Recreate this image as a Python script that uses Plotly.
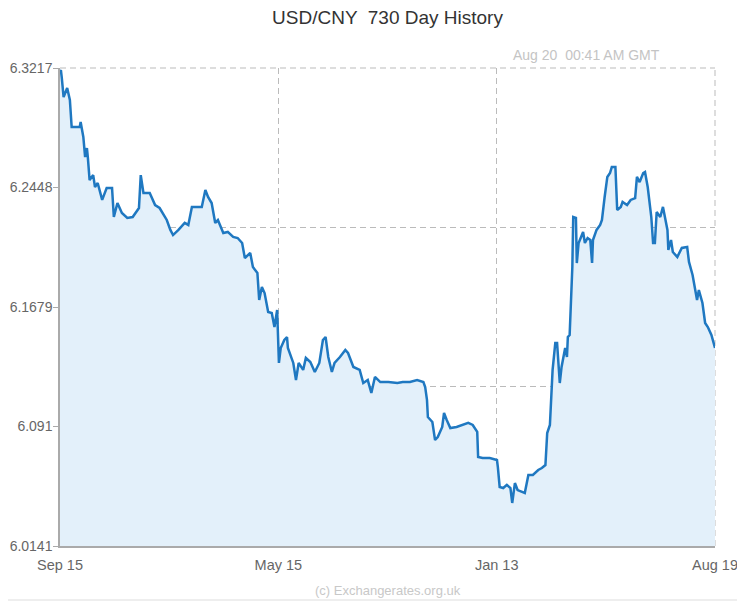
import plotly.graph_objects as go

# day offsets within the 730 day window, and the USD/CNY rate on that day
days = [
    0, 1, 2, 4, 8, 11, 13, 22, 23, 26, 28, 30, 31, 33, 37, 39, 42, 47, 52, 58,
    60, 64, 69, 75, 81, 86, 88, 90, 93, 100, 106, 111, 119, 123, 126, 132, 139, 143, 147, 158,
    162, 165, 169, 173, 176, 182, 187, 193, 198, 203, 206, 212, 215, 220, 222, 225, 228, 232, 236, 239,
    242, 244, 246, 250, 253, 254, 260, 263, 266, 271, 274, 279, 284, 289, 293, 296, 299, 303, 306, 312,
    318, 321, 327, 334, 338, 343, 347, 351, 357, 366, 376, 382, 390, 398, 405, 407, 409, 410, 415, 418,
    421, 426, 428, 431, 435, 442, 449, 455, 460, 465, 466, 471, 479, 487, 488, 490, 494, 498, 502, 504,
    507, 510, 515, 518, 522, 527, 533, 537, 541, 543, 546, 548, 549, 552, 554, 557, 559, 563, 565, 566,
    568, 571, 572, 575, 576, 578, 582, 583, 585, 588, 591, 593, 594, 598, 602, 604, 607, 610, 613, 615,
    619, 621, 625, 627, 632, 636, 641, 643, 646, 650, 652, 655, 659, 661, 663, 665, 669, 672, 677, 678,
    681, 683, 688, 693, 699, 701, 705, 710, 712, 716, 719, 722, 726, 728, 730,
]
rates = [
    6.3191, 6.3204, 6.3153, 6.3030, 6.3088, 6.3011, 6.2837, 6.2837, 6.2870, 6.2773,
    6.2644, 6.2702, 6.2644, 6.2496, 6.2528, 6.2451, 6.2477, 6.2368, 6.2445, 6.2445,
    6.2258, 6.2348, 6.2284, 6.2252, 6.2258, 6.2303, 6.2316, 6.2528, 6.2413, 6.2413,
    6.2335, 6.2316, 6.2239, 6.2175, 6.2142, 6.2175, 6.2220, 6.2207, 6.2323, 6.2323,
    6.2432, 6.2387, 6.2348, 6.2220, 6.2239, 6.2155, 6.2162, 6.2130, 6.2123, 6.2091,
    6.1994, 6.2027, 6.1936, 6.1898, 6.1724, 6.1808, 6.1769, 6.1647, 6.1640, 6.1550,
    6.1660, 6.1319, 6.1415, 6.1467, 6.1486, 6.1415, 6.1319, 6.1209, 6.1319, 6.1274,
    6.1351, 6.1325, 6.1261, 6.1319, 6.1467, 6.1486, 6.1357, 6.1261, 6.1319, 6.1357,
    6.1402, 6.1383, 6.1293, 6.1274, 6.1190, 6.1209, 6.1126, 6.1229, 6.1196, 6.1196,
    6.1190, 6.1196, 6.1196, 6.1209, 6.1196, 6.1164, 6.1081, 6.0971, 6.0939, 6.0823,
    6.0842, 6.0907, 6.0997, 6.0952, 6.0900, 6.0907, 6.0920, 6.0933, 6.0920, 6.0875,
    6.0714, 6.0707, 6.0707, 6.0694, 6.0649, 6.0521, 6.0514, 6.0534, 6.0514, 6.0418,
    6.0546, 6.0501, 6.0489, 6.0482, 6.0598, 6.0598, 6.0630, 6.0643, 6.0662, 6.0868,
    6.0920, 6.1229, 6.1274, 6.1447, 6.1447, 6.1190, 6.1293, 6.1415, 6.1357, 6.1486,
    6.1499, 6.1936, 6.2258, 6.2252, 6.1962, 6.2091, 6.2155, 6.2162, 6.2091, 6.2123,
    6.2110, 6.1962, 6.2110, 6.2175, 6.2207, 6.2239, 6.2387, 6.2516, 6.2541, 6.2580,
    6.2580, 6.2303, 6.2323, 6.2355, 6.2335, 6.2368, 6.2380, 6.2516, 6.2483, 6.2541,
    6.2548, 6.2451, 6.2258, 6.2091, 6.2091, 6.2290, 6.2258, 6.2323, 6.2175, 6.2046,
    6.2110, 6.2033, 6.2001, 6.2059, 6.2065, 6.1969, 6.1885, 6.1724, 6.1788, 6.1705,
    6.1576, 6.1550, 6.1499, 6.1447, 6.1415,
]

x_ticks = [0, 730 / 3, 2 * 730 / 3, 730]
x_labels = ["Sep 15", "May 15", "Jan 13", "Aug 19"]
y_ticks = [6.0141, 6.0910, 6.1679, 6.2448, 6.3217]
y_labels = ["6.0141", "6.091", "6.1679", "6.2448", "6.3217"]

y_min, y_max = y_ticks[0], y_ticks[-1]
y_grid = [y_min + (y_max - y_min) * i / 3 for i in range(1, 3)]

GRID = "#bbbbbb"
DASH = "6px,4px"

# the page adds an 8px body margin, so the figure is 8px smaller each way
W, H = 737, 594

fig = go.Figure(
    go.Scatter(
        x=days,
        y=rates,
        mode="lines",
        line=dict(color="#1f78c1", width=2.5),
        fill="tozeroy",
        fillcolor="#e3f0fa",
        hoverinfo="skip",
    )
)

fig.update_layout(
    width=W,
    height=H,
    margin=dict(l=52, r=30, t=60, b=56),
    paper_bgcolor="white",
    plot_bgcolor="white",
    showlegend=False,
    font=dict(family="Liberation Sans, Arial, sans-serif", size=14, color="#666"),
    title=dict(
        text="USD/CNY  730 Day History",
        font=dict(size=19, color="#333"),
        x=0.5,
        xref="paper",
        xanchor="center",
        y=1 - 9 / H,
        yref="container",
        yanchor="middle",
        automargin=False,
    ),
)

fig.update_xaxes(
    range=[0, 730],
    tickvals=x_ticks,
    ticktext=x_labels,
    tickfont=dict(size=14.5),
    showgrid=True,
    griddash=DASH,
    gridcolor=GRID,
    gridwidth=1,
    showline=True,
    linecolor="#aaaaaa",
    linewidth=1.5,
    ticks="outside",
    ticklen=5,
    tickcolor="rgba(0,0,0,0)",
    zeroline=False,
    automargin=False,
    fixedrange=True,
)
fig.update_yaxes(
    range=[y_min, y_max],
    tickvals=y_ticks,
    ticktext=y_labels,
    tickfont=dict(size=14),
    ticklabelstandoff=-2,
    showgrid=False,
    minor=dict(tickvals=y_grid, showgrid=True, griddash=DASH, gridcolor=GRID, ticks=""),
    showline=True,
    linecolor="#aaaaaa",
    linewidth=1.5,
    ticks="outside",
    ticklen=5,
    tickcolor="#aaaaaa",
    zeroline=False,
    automargin=False,
    fixedrange=True,
)

# dashed top and right edges of the plot frame, under the area fill
fig.add_shape(
    type="line", xref="paper", yref="paper", x0=0, x1=1, y0=1, y1=1,
    line=dict(color=GRID, width=1, dash=DASH), layer="below",
)
fig.add_shape(
    type="line", xref="paper", yref="paper", x0=1, x1=1, y0=0, y1=1,
    line=dict(color=GRID, width=1, dash=DASH), layer="below",
)

fig.add_annotation(
    text="Aug 20  00:41 AM GMT",
    xref="paper", yref="paper",
    x=(662 - 60) / 655, y=(546 - 55) / 478,
    xanchor="right", yanchor="middle",
    showarrow=False,
    font=dict(size=14, color="#c4c4c4"),
)
fig.add_annotation(
    text="(c) Exchangerates.org.uk",
    xref="paper", yref="paper",
    x=0.5, y=(546 - 590) / 478,
    xanchor="center", yanchor="middle",
    showarrow=False,
    font=dict(size=13, color="#c8c8c8"),
)

# thin frame round the picture, bottom and right edges
fig.add_shape(
    type="line", xref="paper", yref="paper",
    x0=-60 / 655, x1=(740 - 60) / 655, y0=(546 - 600) / 478, y1=(546 - 600) / 478,
    line=dict(color="#dddddd", width=1),
)
fig.add_shape(
    type="line", xref="paper", yref="paper",
    x0=(740 - 60) / 655, x1=(740 - 60) / 655, y0=(546 - 600) / 478, y1=546 / 478,
    line=dict(color="#dddddd", width=1),
)

fig.write_html("out.html")
